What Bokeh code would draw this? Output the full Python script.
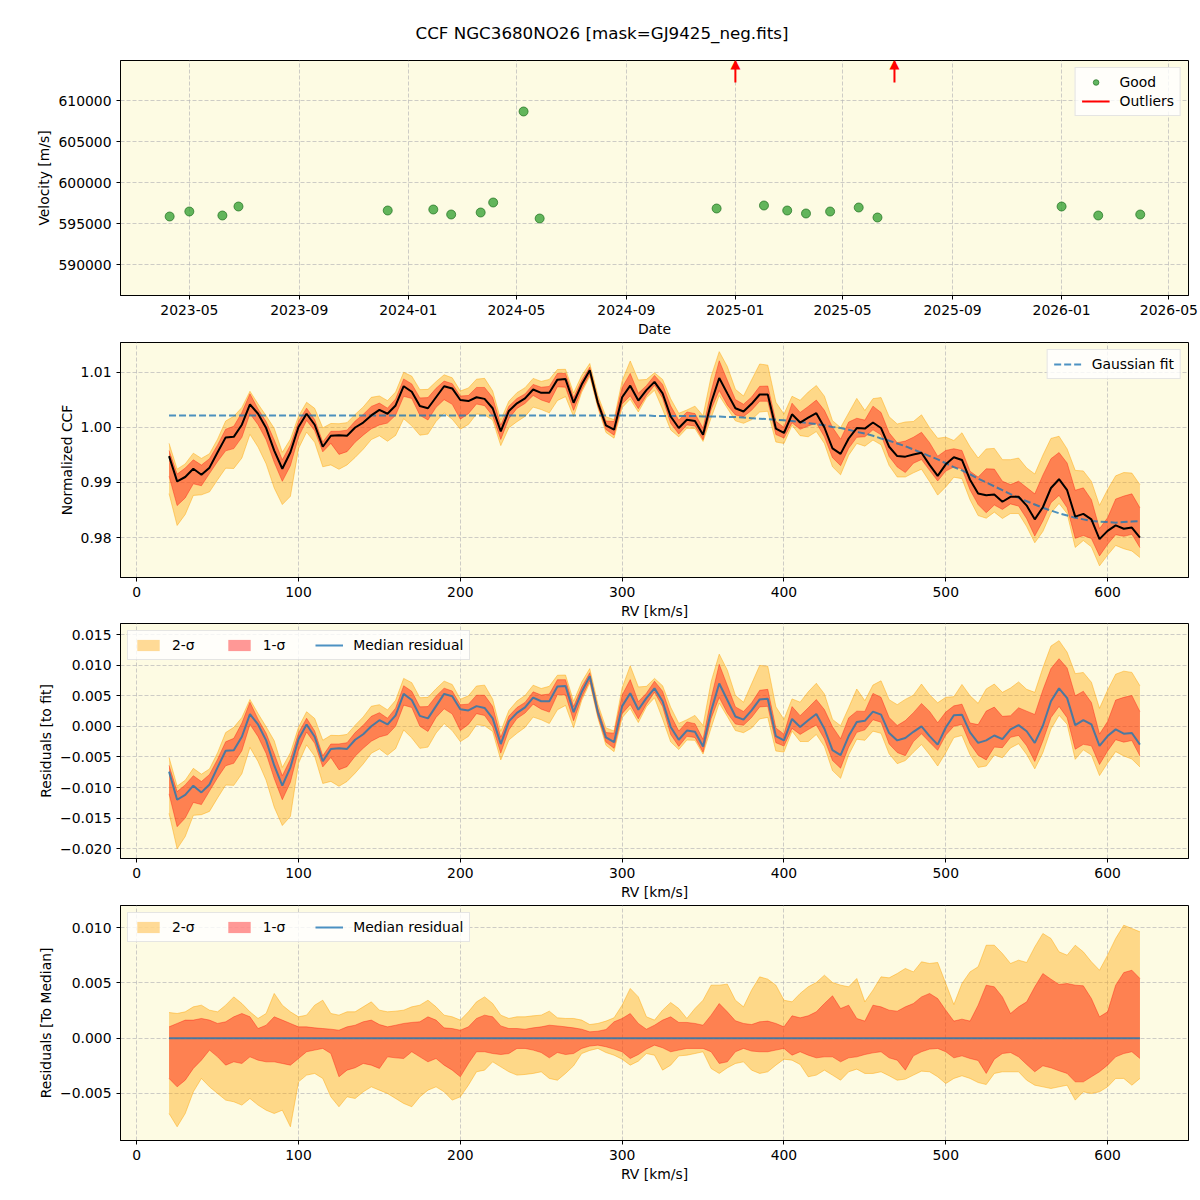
import numpy as np
from bokeh.plotting import figure
from bokeh.layouts import column
from bokeh.models import (Range1d, FixedTicker, Label, Legend, LegendItem,
                          CustomJSTickFormatter, NumeralTickFormatter)
from bokeh.embed import file_html
from bokeh.resources import INLINE

# ---------------- data: panel 1 (velocities) ----------------
obs_dates = ["2023-04-09", "2023-05-01", "2023-06-07", "2023-06-25", "2023-12-09",
             "2024-01-29", "2024-02-18", "2024-03-22", "2024-04-05", "2024-05-09",
             "2024-05-27", "2024-12-11", "2025-02-02", "2025-02-28", "2025-03-21",
             "2025-04-17", "2025-05-19", "2025-06-09", "2026-01-01", "2026-02-11",
             "2026-03-30"]
obs_velocity = [595854, 596463, 595976, 597073, 596585,
                596707, 596098, 596341, 597561, 608659,
                595610, 596829, 597195, 596585, 596220,
                596463, 596951, 595732, 597073, 595976,
                596098]
outlier_dates = ["2025-01-01", "2025-06-28"]
outlier_arrow_from = 612200
outlier_arrow_tip = 615854
date_ticks = ["2023-05-01", "2023-09-01", "2024-01-01", "2024-05-01", "2024-09-01",
              "2025-01-01", "2025-05-01", "2025-09-01", "2026-01-01", "2026-05-01"]

# ---------------- data: CCF panels (RV grid 20..620 km/s, step 5) ----------------
rv = np.arange(20, 621, 5)

ccf_median = [
    0.9948, 0.9902, 0.9910, 0.9925, 0.9914, 0.9927, 0.9955, 0.9982, 0.9983, 1.0005,
    1.0042, 1.0025, 0.9999, 0.9958, 0.9925, 0.9955, 1.0001, 1.0025, 1.0005, 0.9965,
    0.9985, 0.9986, 0.9985, 1.0000, 1.0009, 1.0022, 1.0032, 1.0025, 1.0040, 1.0075,
    1.0065, 1.0039, 1.0035, 1.0055, 1.0075, 1.0071, 1.0050, 1.0048, 1.0055, 1.0052,
    1.0035, 0.9993, 1.0030, 1.0044, 1.0053, 1.0069, 1.0063, 1.0063, 1.0087, 1.0088,
    1.0045, 1.0078, 1.0104, 1.0045, 1.0004, 0.9996, 1.0055, 1.0076, 1.0049, 1.0068,
    1.0083, 1.0062, 1.0020, 0.9999, 1.0014, 1.0012, 0.9987, 1.0045, 1.0090, 1.0062,
    1.0035, 1.0029, 1.0043, 1.0060, 1.0060, 0.9998, 0.9990, 1.0024, 1.0009, 1.0018,
    1.0026, 1.0000, 0.9962, 0.9952, 0.9980, 0.9999, 0.9998, 1.0009, 0.9999, 0.9965,
    0.9948, 0.9947, 0.9951, 0.9954, 0.9932, 0.9912, 0.9933, 0.9946, 0.9941, 0.9905,
    0.9880, 0.9877, 0.9878, 0.9865, 0.9874, 0.9874, 0.9858, 0.9833, 0.9855, 0.9890,
    0.9906, 0.9886, 0.9838, 0.9843, 0.9833, 0.9797, 0.9812, 0.9822, 0.9816, 0.9818,
    0.9800]

gauss_fit = [
    1.0022, 1.0022, 1.0022, 1.0022, 1.0022, 1.0022, 1.0022, 1.0022, 1.0022, 1.0022,
    1.0022, 1.0022, 1.0022, 1.0022, 1.0022, 1.0022, 1.0022, 1.0022, 1.0022, 1.0022,
    1.0022, 1.0022, 1.0022, 1.0022, 1.0022, 1.0022, 1.0022, 1.0022, 1.0022, 1.0022,
    1.0022, 1.0022, 1.0022, 1.0022, 1.0022, 1.0022, 1.0022, 1.0022, 1.0022, 1.0022,
    1.0022, 1.0022, 1.0022, 1.0022, 1.0022, 1.0022, 1.0022, 1.0022, 1.0022, 1.0022,
    1.0022, 1.0022, 1.0022, 1.0022, 1.0022, 1.0022, 1.0022, 1.0022, 1.0022, 1.0022,
    1.0021, 1.0021, 1.0021, 1.0021, 1.0021, 1.0021, 1.0020, 1.0020, 1.0020, 1.0019,
    1.0019, 1.0018, 1.0017, 1.0016, 1.0015, 1.0014, 1.0013, 1.0012, 1.0010, 1.0008,
    1.0006, 1.0004, 1.0001, 0.9999, 0.9996, 0.9992, 0.9989, 0.9985, 0.9980, 0.9976,
    0.9971, 0.9966, 0.9960, 0.9954, 0.9948, 0.9942, 0.9935, 0.9928, 0.9922, 0.9915,
    0.9907, 0.9900, 0.9893, 0.9886, 0.9879, 0.9872, 0.9866, 0.9860, 0.9854, 0.9849,
    0.9844, 0.9840, 0.9836, 0.9833, 0.9830, 0.9829, 0.9828, 0.9827, 0.9828, 0.9829,
    0.9830]

# band edges relative to the median, in units of 1e-4
hi_2sigma = [
    23.2, 22.3, 23.8, 28.3, 29.8, 25.3, 23.8, 29.8, 37.3, 31.3,
    23.8, 17.8, 22.3, 40.4, 29.8, 23.8, 19.3, 20.8, 29.8, 34.3,
    22.3, 20.8, 23.8, 23.8, 28.3, 32.8, 25.3, 23.8, 24.4, 25.3,
    28.3, 29.8, 34.3, 28.3, 20.8, 19.3, 16.3, 23.8, 32.8, 37.3,
    31.3, 20.8, 17.8, 19.3, 19.3, 20.2, 20.8, 24.4, 18.4, 17.8,
    17.8, 16.3, 12.3, 13.3, 15.4, 18.4, 29.8, 44.9, 37.3, 19.3,
    16.3, 25.3, 32.2, 26.8, 17.8, 26.8, 34.3, 47.9, 47.9, 48.8,
    34.3, 28.3, 43.4, 55.4, 53.3, 47.9, 34.3, 32.8, 40.4, 46.4,
    50.3, 56.9, 50.3, 47.9, 46.4, 53.9, 32.8, 43.4, 55.4, 54.5,
    58.4, 63.0, 59.9, 69.0, 67.5, 68.4, 49.4, 30.4, 49.4, 59.9,
    64.5, 84.0, 84.0, 76.5, 67.5, 70.5, 68.4, 82.5, 94.6, 90.1,
    78.0, 75.0, 84.0, 78.0, 69.0, 61.4, 75.0, 90.1, 102.1, 99.1,
    96.1]
hi_1sigma = [
    10.2, 13.3, 16.3, 16.3, 17.8, 16.3, 13.3, 14.8, 19.3, 22.3,
    19.3, 8.7, 11.7, 19.3, 16.3, 13.3, 10.2, 10.2, 9.3, 8.7,
    8.1, 7.2, 10.2, 11.7, 14.8, 16.3, 12.3, 10.2, 11.7, 13.3,
    14.2, 14.8, 19.3, 16.3, 9.3, 8.7, 7.2, 10.2, 17.8, 20.8,
    19.3, 11.1, 8.7, 8.7, 8.1, 9.3, 10.2, 11.7, 11.1, 10.2,
    9.3, 8.1, 5.7, 6.3, 7.8, 14.8, 17.8, 22.3, 13.3, 8.1,
    11.7, 16.3, 19.3, 14.2, 14.2, 13.3, 11.7, 20.8, 31.3, 23.8,
    15.7, 13.3, 12.3, 14.8, 15.4, 13.3, 10.2, 20.2, 18.4, 20.2,
    23.8, 31.3, 38.3, 26.8, 29.8, 17.8, 15.4, 29.8, 28.3, 25.3,
    24.4, 28.3, 31.3, 37.3, 40.4, 35.8, 25.3, 15.4, 17.2, 15.4,
    29.8, 47.9, 46.4, 37.3, 22.3, 28.3, 32.8, 46.4, 58.4, 53.3,
    48.5, 49.4, 47.9, 47.3, 35.8, 19.3, 23.8, 47.9, 59.3, 61.4,
    53.9]
lo_1sigma = [
    -36.4, -44.0, -38.0, -27.4, -19.9, -10.8, -16.9, -24.4, -21.4, -22.9,
    -16.9, -19.9, -21.4, -21.4, -22.9, -24.4, -18.4, -12.3, -10.8, -9.3,
    -13.9, -34.9, -28.9, -26.8, -22.9, -24.4, -27.4, -16.9, -17.8, -18.4,
    -12.3, -16.9, -21.4, -18.4, -24.4, -28.9, -34.9, -22.9, -12.3, -12.3,
    -13.9, -14.8, -13.9, -9.3, -9.3, -10.8, -13.0, -17.8, -13.0, -14.8,
    -13.9, -9.3, -7.2, -6.3, -7.8, -9.9, -12.3, -18.4, -14.8, -9.9,
    -6.3, -8.7, -12.3, -10.8, -9.3, -9.3, -9.3, -12.3, -22.9, -21.4,
    -12.3, -9.3, -11.7, -12.3, -12.3, -10.8, -9.3, -15.4, -12.3, -15.4,
    -17.8, -16.9, -16.9, -21.4, -17.8, -16.9, -14.8, -13.3, -12.3, -17.8,
    -19.9, -28.9, -16.0, -12.3, -9.9, -9.3, -12.3, -17.8, -16.0, -18.4,
    -20.2, -31.9, -19.0, -13.9, -13.0, -16.9, -23.8, -30.4, -25.0, -26.8,
    -29.5, -31.9, -39.5, -39.5, -34.9, -30.4, -24.4, -16.9, -13.9, -12.3,
    -18.4]
lo_2sigma = [
    -68.1, -80.1, -68.1, -48.5, -36.4, -44.0, -50.0, -56.0, -57.5, -60.5,
    -54.5, -60.5, -65.1, -68.1, -65.1, -80.1, -39.5, -33.4, -31.9, -36.4,
    -53.0, -62.0, -53.0, -54.5, -48.5, -44.0, -47.0, -50.0, -54.5, -59.0,
    -62.0, -53.0, -47.0, -44.0, -48.5, -56.0, -53.0, -42.5, -30.4, -28.9,
    -21.4, -25.9, -30.4, -33.4, -32.8, -31.9, -30.4, -36.4, -38.0, -31.9,
    -25.0, -13.9, -11.1, -9.3, -13.0, -15.4, -19.0, -24.4, -20.8, -13.9,
    -15.4, -28.9, -24.4, -16.0, -15.4, -13.9, -12.3, -27.4, -31.9, -26.8,
    -22.9, -21.4, -28.9, -31.9, -30.4, -24.4, -19.0, -19.9, -23.8, -34.9,
    -33.4, -28.9, -33.4, -38.0, -30.4, -28.0, -31.9, -31.9, -30.4, -34.0,
    -38.0, -37.0, -33.4, -29.8, -30.4, -34.9, -41.0, -36.4, -34.0, -36.4,
    -40.1, -41.9, -31.9, -30.4, -30.4, -30.4, -38.0, -42.5, -44.0, -45.5,
    -44.0, -42.5, -56.0, -48.5, -50.0, -48.5, -44.0, -36.4, -36.4, -42.5,
    -36.4]

rv_ticks = [0, 100, 200, 300, 400, 500, 600]

# ---------------- helpers ----------------
FONT = "DejaVu Sans"
FS = "13.9px"
BG = "#FDFBE3"


def ms(s):
    return float(np.datetime64(s, "ms").astype("int64"))


def style(p, xlabel, ylabel):
    p.background_fill_color = BG
    p.border_fill_color = "white"
    p.outline_line_color = "black"
    p.outline_line_width = 1
    for ax in (p.xaxis[0], p.yaxis[0]):
        ax.major_tick_in = 0
        ax.major_tick_out = 4
        ax.minor_tick_line_color = None
        ax.axis_line_color = "black"
        ax.major_label_text_font = FONT
        ax.major_label_text_font_size = FS
        ax.major_label_text_color = "black"
        ax.axis_label_text_font = FONT
        ax.axis_label_text_font_size = FS
        ax.axis_label_text_font_style = "normal"
        ax.axis_label_text_color = "black"
        ax.major_label_standoff = 5
        ax.axis_label_standoff = 3
    p.xaxis.axis_label = xlabel
    p.yaxis.axis_label = ylabel
    for g in (p.xgrid[0], p.ygrid[0]):
        g.grid_line_color = "#b8b8b8"
        g.grid_line_alpha = 0.7
        g.grid_line_dash = "4 2"
        g.grid_line_width = 1


def style_legend(leg):
    leg.label_text_font = FONT
    leg.label_text_font_size = FS
    leg.label_text_color = "black"
    leg.background_fill_color = "white"
    leg.background_fill_alpha = 0.8
    leg.border_line_color = "#cccccc"
    leg.border_line_width = 1
    leg.glyph_width = 28
    leg.glyph_height = 14
    leg.label_height = 16
    leg.label_standoff = 10
    leg.padding = 6
    leg.margin = 7


W = 1200
common = dict(width=W, output_backend="svg", toolbar_location=None,
              min_border_left=120, min_border_right=12)

# ---------------- panel 1 ----------------
p1 = figure(height=340, min_border_top=60, min_border_bottom=45,
            x_range=Range1d(ms("2023-02-13"), ms("2026-05-23")),
            y_range=Range1d(586220, 614878), **common)
style(p1, "Date", "Velocity [m/s]")
p1.title.text = "CCF NGC3680NO26 [mask=GJ9425_neg.fits]"
p1.title.align = "left"
p1.title.offset = 295
p1.title.text_color = "black"
p1.title.text_font = FONT
p1.title.text_font_size = "16.7px"
p1.title.text_font_style = "normal"
p1.title.standoff = 35

obs_x = [ms(d) for d in obs_dates]
good_r = p1.scatter(obs_x, obs_velocity, size=9, fill_color="#2e9e2e", fill_alpha=0.75,
                    line_color="#1d6e1d", line_alpha=0.7)

# outlier arrows: shaft (glyph) + head (text annotation, lies partly above the frame)
HEAD_H_PX = 9.0
vel_per_px = 5000 / 41.0
head_base = outlier_arrow_tip - HEAD_H_PX * vel_per_px
od_x = [ms(d) for d in outlier_dates]
out_r = p1.segment(x0=od_x, y0=[outlier_arrow_from] * len(od_x), x1=od_x,
                   y1=[head_base] * len(od_x), line_color="red", line_width=2)
for x in od_x:
    p1.add_layout(Label(x=x, y=head_base, y_offset=-2, text="▲", text_align="center",
                        text_baseline="alphabetic", text_color="red",
                        text_font=FONT, text_font_size="13px"))

p1.xaxis.ticker = FixedTicker(ticks=[ms(d) for d in date_ticks])
p1.xaxis.formatter = CustomJSTickFormatter(code="""
const d = new Date(tick);
return d.getUTCFullYear() + '-' + String(d.getUTCMonth() + 1).padStart(2, '0');
""")
p1.yaxis.ticker = FixedTicker(ticks=[590000, 595000, 600000, 605000, 610000])
p1.yaxis.formatter = NumeralTickFormatter(format="0")
leg1 = Legend(items=[LegendItem(label="Good", renderers=[good_r]),
                     LegendItem(label="Outliers", renderers=[out_r])],
              location="top_right")
style_legend(leg1)
p1.add_layout(leg1)

# ---------------- derived arrays ----------------
M = np.array(ccf_median)
F = np.array(gauss_fit)
U2 = np.array(hi_2sigma) * 1e-4
U1 = np.array(hi_1sigma) * 1e-4
L1 = np.array(lo_1sigma) * 1e-4
L2 = np.array(lo_2sigma) * 1e-4

ORANGE = "#FFA500"
RED = "#FF0000"
BLUE = "#1f77b4"


def fmt(n):
    return CustomJSTickFormatter(code="""
if (Math.abs(tick) < 1e-12) { return (0).toFixed(%d); }
return tick.toFixed(%d).replace('-', '\\u2212');
""" % (n, n))


def bands(p, base):
    r2 = p.varea(x=rv, y1=base + L2, y2=base + U2, fill_color=ORANGE, fill_alpha=0.4)
    p.line(rv, base + L2, line_color=ORANGE, line_alpha=0.45, line_width=1)
    p.line(rv, base + U2, line_color=ORANGE, line_alpha=0.45, line_width=1)
    r1 = p.varea(x=rv, y1=base + L1, y2=base + U1, fill_color=RED, fill_alpha=0.4)
    p.line(rv, base + L1, line_color=RED, line_alpha=0.35, line_width=1)
    p.line(rv, base + U1, line_color=RED, line_alpha=0.35, line_width=1)
    return r2, r1


def rv_axes(p):
    p.xaxis.ticker = FixedTicker(ticks=rv_ticks)


# ---------------- panel 2 ----------------
p2 = figure(height=282, min_border_top=2, min_border_bottom=45,
            x_range=Range1d(-10, 650), y_range=Range1d(0.97273, 1.01545), **common)
style(p2, "RV [km/s]", "Normalized CCF")
rv_axes(p2)
bands(p2, M)
fit_r = p2.line(rv, F, line_color=BLUE, line_alpha=0.8, line_width=2, line_dash="7 3")
p2.line(rv, M, line_color="black", line_width=2)
p2.yaxis.ticker = FixedTicker(ticks=[0.98, 0.99, 1.00, 1.01])
p2.yaxis.formatter = fmt(2)
leg2 = Legend(items=[LegendItem(label="Gaussian fit", renderers=[fit_r])], location="top_right")
style_legend(leg2)
p2.add_layout(leg2)

# ---------------- panel 3 ----------------
R = M - F
p3 = figure(height=281, min_border_top=1, min_border_bottom=45,
            x_range=Range1d(-10, 650), y_range=Range1d(-0.0216, 0.0168), **common)
style(p3, "RV [km/s]", "Residuals [to fit]")
rv_axes(p3)
b2, b1 = bands(p3, R)
med3 = p3.line(rv, R, line_color=BLUE, line_alpha=0.8, line_width=2)
p3.yaxis.ticker = FixedTicker(ticks=[-0.020, -0.015, -0.010, -0.005, 0.0, 0.005, 0.010, 0.015])
p3.yaxis.formatter = fmt(3)
leg3 = Legend(items=[LegendItem(label="2-σ", renderers=[b2]),
                     LegendItem(label="1-σ", renderers=[b1]),
                     LegendItem(label="Median residual", renderers=[med3])],
              location="top_left", orientation="horizontal")
style_legend(leg3)
leg3.spacing = 30
p3.add_layout(leg3)

# ---------------- panel 4 ----------------
Z = M - M
p4 = figure(height=282, min_border_top=2, min_border_bottom=45,
            x_range=Range1d(-10, 650), y_range=Range1d(-0.00925, 0.01199), **common)
style(p4, "RV [km/s]", "Residuals [To Median]")
rv_axes(p4)
c2, c1 = bands(p4, Z)
med4 = p4.line(rv, Z, line_color=BLUE, line_alpha=0.8, line_width=2)
p4.yaxis.ticker = FixedTicker(ticks=[-0.005, 0.0, 0.005, 0.010])
p4.yaxis.formatter = fmt(3)
leg4 = Legend(items=[LegendItem(label="2-σ", renderers=[c2]),
                     LegendItem(label="1-σ", renderers=[c1]),
                     LegendItem(label="Median residual", renderers=[med4])],
              location="top_left", orientation="horizontal")
style_legend(leg4)
leg4.spacing = 30
p4.add_layout(leg4)

layout = column(p1, p2, p3, p4, spacing=0)
open("out.html", "w").write(file_html(layout, INLINE))
